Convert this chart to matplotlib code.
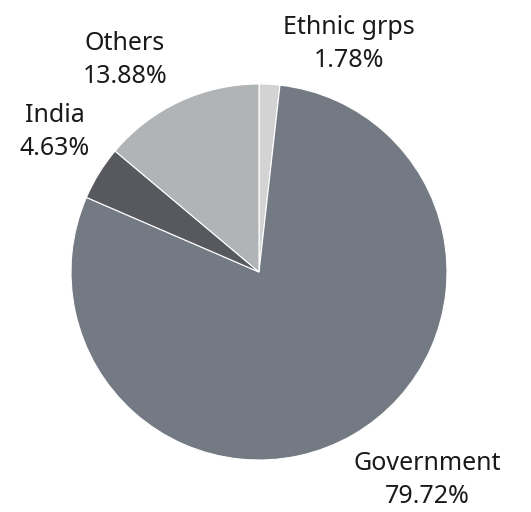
import matplotlib.pyplot as plt

labels = ["Ethnic grps", "Government", "India", "Others"]
shares = [1.78, 79.72, 4.63, 13.88]
colors = ["#d3d3d3", "#737a84", "#57595e", "#b1b4b6"]

# text anchor for each label block (x, y of label centre, in pixels from top-left)
label_pos = [(349, 44), (427, 480), (55, 132), (125, 60)]

fig = plt.figure(figsize=(5.31, 5.12), dpi=100)
ax = fig.add_axes([0, 0, 1, 1])

# pie drawn clockwise from the top; y axis is flipped so counterclock gives clockwise
ax.pie(shares, colors=colors, startangle=-90, counterclock=True,
       center=(259, 272), radius=188, frame=True,
       wedgeprops=dict(edgecolor="white", linewidth=0.8))
ax.set_xlim(0, 531)
ax.set_ylim(512, 0)
ax.set_aspect("equal")
ax.axis("off")

for name, val, (x, y) in zip(labels, shares, label_pos):
    ax.text(x, y, f"{name}\n{val:.2f}%", ha="center", va="center",
            fontsize=18, family="Noto Sans", color="#1a1a1a", linespacing=1.45)

fig.savefig("out.png", dpi=100)
